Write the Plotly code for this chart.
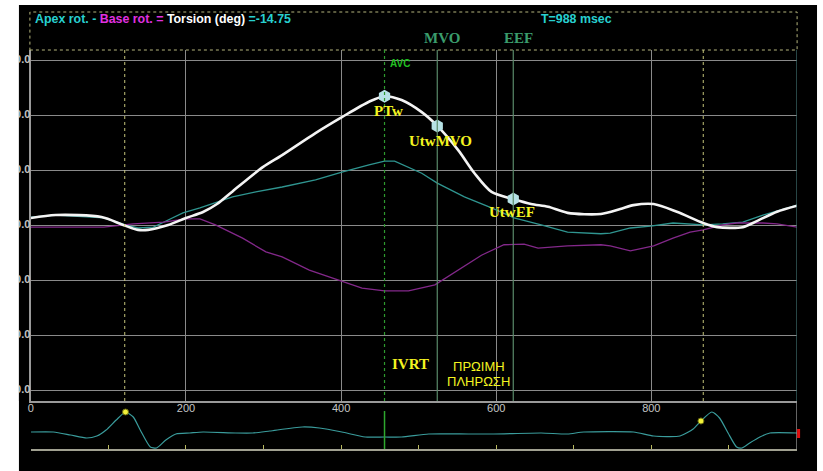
import plotly.graph_objects as go

W, H = 823, 471

# ---- rotation data (ms, degrees) ----
apex_t = [0, 32, 94, 122, 138, 158, 177, 196, 218, 238, 260, 290, 324, 367, 401, 436, 456, 469,
          504, 524, 559, 594, 623, 658, 692, 735, 747, 773, 799, 828, 867, 892, 918, 944, 962, 988]
apex_deg = [1.5, 1.9, 1.4, 0.1, -0.45, -0.3, 1.0, 2.3, 3.2, 4.1, 5.2, 6.1, 7.0, 8.3, 9.7, 11.0, 11.7, 11.7,
            9.5, 7.7, 5.2, 3.2, 1.4, 0.1, -1.2, -1.5, -1.4, -0.45, -0.1, 0.45, 0.1, 0.3, 0.6, 1.9, 2.6, 3.7]

base_t = [0, 94, 132, 171, 200, 218, 238, 273, 303, 324, 359, 397, 427, 456, 487, 521, 551, 581,
          610, 636, 654, 692, 735, 747, 773, 803, 828, 850, 867, 892, 910, 944, 962, 988]
base_deg = [-0.3, -0.3, 0.3, 0.6, 1.2, 1.2, 0.1, -2.3, -4.8, -5.7, -8.1, -9.9, -11.4, -11.9, -11.9, -10.8, -8.1, -5.4,
            -3.5, -3.4, -4.1, -3.7, -3.5, -3.7, -4.6, -3.7, -2.3, -1.2, -0.8, 0.1, 0.45, 0.45, 0.3, -0.3]

torsion_t = [0, 32, 91, 119, 138, 151, 177, 200, 222, 240, 260, 299, 324, 367, 401, 436, 456, 478,
             504, 524, 551, 572, 594, 622, 645, 667, 692, 735, 760, 777, 803, 833, 867, 885, 918, 936, 962, 988]
torsion_deg = [1.36, 1.9, 1.55, 0.1, -0.8, -0.8, 0.1, 1.36, 2.45, 3.9, 6.2, 10.6, 12.8, 16.8, 19.7, 22.5, 23.5, 22.8,
               20.6, 18.1, 13.7, 9.5, 6.1, 4.8, 3.9, 3.4, 2.3, 2.1, 3.0, 3.7, 3.9, 2.5, 0.45, -0.3, -0.3, 0.8, 2.5, 3.6]

# torsion landmarks
point_names = ["PTw", "UtwMVO", "UtwEF"]
point_t = [456, 524, 622]
point_deg = [23.5, 18.1, 4.8]

# cardiac events (ms)
avc_t, mvo_t, eef_t = 456, 524, 622
cycle_marks = [121, 867]

# ---- ECG strip ----
ecg_t = [0, 29, 51, 72, 85, 97, 110, 122, 132, 141, 154, 162, 174, 187, 205, 222, 264, 286, 308, 350,
         372, 401, 431, 456, 478, 513, 564, 597, 658, 692, 713, 777, 803, 837, 854, 864, 878, 888,
         899, 910, 917, 927, 940, 953, 988]
ecg_mv = [0.1, 0.1, -0.2, -0.5, -0.3, 0.3, 1.3, 2.1, 1.6, 0.3, -1.4, -1.5, -0.7, -0.1, 0.0, 0.1, 0.0, 0.0, 0.2, 0.6,
          0.5, 0.1, -0.4, -0.4, -0.4, -0.1, -0.1, -0.1, 0.0, -0.1, 0.1, 0.1, -0.3, -0.3, 0.4, 1.2, 2.1, 1.5,
          0.0, -1.4, -1.5, -1.0, -0.4, 0.0, 0.0]
ecg_dot_t = [122, 864]
ecg_dot_mv = [2.1, 1.2]

x_ticks = [0, 200, 400, 600, 800]
y_ticks = [-30, -20, -10, 0, 10, 20, 30]


def px(x):
    return x / W


def py(y):
    return 1 - y / H


GRID = "#8a8a8a"
Y_RANGE = [-31.9, 31.9]

fig = go.Figure()

fig.add_trace(go.Scatter(x=apex_t, y=apex_deg, mode="lines",
                         line=dict(color="#2f9590", width=1.3), hoverinfo="skip"))
fig.add_trace(go.Scatter(x=base_t, y=base_deg, mode="lines",
                         line=dict(color="#83288a", width=1.3), hoverinfo="skip"))
fig.add_trace(go.Scatter(x=torsion_t, y=torsion_deg, mode="lines",
                         line=dict(color="#f4f4f4", width=2.6, shape="spline", smoothing=0.8),
                         hoverinfo="skip"))
fig.add_trace(go.Scatter(x=point_t, y=point_deg, mode="markers",
                         marker=dict(symbol="hexagon", size=13, color="#b6e2e6", line=dict(width=0)),
                         hoverinfo="skip"))

fig.add_trace(go.Scatter(x=ecg_t, y=ecg_mv, mode="lines", xaxis="x2", yaxis="y2",
                         line=dict(color="#3a9c9c", width=1.2, shape="spline", smoothing=0.6),
                         hoverinfo="skip"))
fig.add_trace(go.Scatter(x=ecg_dot_t, y=ecg_dot_mv, mode="markers", xaxis="x2", yaxis="y2",
                         marker=dict(symbol="circle", size=6, color="#f2f23a",
                                     line=dict(color="#6a6a10", width=1)),
                         hoverinfo="skip"))

# degree labels live in a narrow strip left of the plot, clipped at its left edge
fig.add_trace(go.Scatter(x=[11.5] * len(y_ticks), y=y_ticks, mode="text", xaxis="x3", yaxis="y3",
                         text=["<b>%.1f</b>" % v for v in y_ticks], textposition="middle left",
                         textfont=dict(family="Liberation Sans", size=11, color="#c4c4c4"),
                         cliponaxis=True, hoverinfo="skip"))

shapes = []
# black panel on white page
shapes.append(dict(type="rect", xref="paper", yref="paper", x0=px(16), x1=px(817), y0=0, y1=py(5),
                   fillcolor="black", line=dict(width=0), layer="below"))
# header box
hdr = dict(color="#b4b47c", width=1, dash="dot")
shapes.append(dict(type="rect", xref="paper", yref="paper", x0=px(27), x1=px(797), y0=py(50), y1=py(12),
                   line=hdr, layer="above"))
# right edges of both panels
shapes.append(dict(type="line", xref="x", yref="paper", x0=988, x1=988, y0=py(401), y1=py(50),
                   line=dict(color="#3c6a6a", width=1.5)))
shapes.append(dict(type="line", xref="x2", yref="paper", x0=988, x1=988, y0=py(449), y1=py(401),
                   line=dict(color="#9a9a9a", width=1.5)))
# cycle markers
for t in cycle_marks:
    shapes.append(dict(type="line", xref="x", yref="y domain", x0=t, x1=t, y0=0, y1=1,
                       line=dict(color="#c4c47a", width=1, dash="dot")))
# event lines
shapes.append(dict(type="line", xref="x", yref="y domain", x0=avc_t, x1=avc_t, y0=0, y1=1,
                   line=dict(color="#2e9a2e", width=1.2, dash="dot")))
for t in (mvo_t, eef_t):
    shapes.append(dict(type="line", xref="x", yref="y domain", x0=t, x1=t, y0=0, y1=1,
                       line=dict(color="#5a8a6a", width=1.2)))
# AVC on ECG strip
shapes.append(dict(type="line", xref="x2", yref="y2", x0=avc_t, x1=avc_t, y0=-1.65, y1=2.2,
                   line=dict(color="#2ea82e", width=1.5)))
# end-of-trace marker
shapes.append(dict(type="line", xref="paper", yref="paper", x0=px(798.5), x1=px(798.5), y0=py(438),
                   y1=py(429), line=dict(color="#e01010", width=3)))

ann = []
ann.append(dict(xref="paper", yref="paper", x=px(30), y=py(19), xanchor="left", yanchor="middle",
                showarrow=False,
                font=dict(family="Liberation Sans", size=12.4, color="#28d0d0"),
                text="<b><span style='color:#28d0d0'>Apex rot. - </span>"
                     "<span style='color:#e030e0'>Base rot. = </span>"
                     "<span style='color:#ffffff'>Torsion (deg) </span>"
                     "<span style='color:#28d0d0'>=-14.75</span></b>"))
ann.append(dict(xref="paper", yref="paper", x=px(576), y=py(19), xanchor="center", yanchor="middle",
                showarrow=False, text="<b>T=988 msec</b>",
                font=dict(family="Liberation Sans", size=12.4, color="#28d0d0")))
serif_green = dict(family="Liberation Serif", size=15, color="#3a9c6c")
ann.append(dict(xref="paper", yref="paper", x=px(441), y=py(38), xanchor="center", yanchor="middle",
                showarrow=False, text="<b>MVO</b>", font=serif_green))
ann.append(dict(xref="paper", yref="paper", x=px(517), y=py(38), xanchor="center", yanchor="middle",
                showarrow=False, text="<b>EEF</b>", font=serif_green))
ann.append(dict(xref="paper", yref="paper", x=px(398), y=py(64), xanchor="center", yanchor="middle",
                showarrow=False, text="<b>AVC</b>",
                font=dict(family="Liberation Sans", size=10, color="#22c022")))

yellow_serif = dict(family="Liberation Serif", size=15, color="#f4f420")
label_pos = [(387, 111), (439, 141), (511, 212)]
for name, (lx, ly) in zip(point_names, label_pos):
    ann.append(dict(xref="paper", yref="paper", x=px(lx), y=py(ly), xanchor="center", yanchor="middle",
                    showarrow=False, text="<b>%s</b>" % name, font=yellow_serif))
ann.append(dict(xref="paper", yref="paper", x=px(409), y=py(364), xanchor="center", yanchor="middle",
                showarrow=False, text="<b>IVRT</b>", font=yellow_serif))
greek = dict(family="Liberation Sans", size=13, color="#f4f420")
ann.append(dict(xref="paper", yref="paper", x=px(478), y=py(366), xanchor="center", yanchor="middle",
                showarrow=False, text="ΠΡΩΙΜΗ", font=greek))
ann.append(dict(xref="paper", yref="paper", x=px(477), y=py(381), xanchor="center", yanchor="middle",
                showarrow=False, text="ΠΛΗΡΩΣΗ", font=greek))

fig.update_layout(
    width=W, height=H,
    margin=dict(l=0, r=0, t=0, b=0),
    paper_bgcolor="white",
    plot_bgcolor="black",
    showlegend=False,
    shapes=shapes,
    annotations=ann,
    xaxis=dict(domain=[px(28), px(797)], range=[0, 988], tickvals=x_ticks,
               showgrid=True, gridcolor=GRID, gridwidth=1, zeroline=False,
               showline=True, linecolor="#9a9a9a", linewidth=1.5,
               ticks="", ticklabelstandoff=-4,
               tickfont=dict(family="Liberation Sans", size=11, color="#c4c4c4"),
               tickprefix="<b>", ticksuffix="</b>", anchor="y"),
    yaxis=dict(domain=[py(401), py(50)], range=Y_RANGE, tickvals=y_ticks,
               showgrid=True, gridcolor=GRID, gridwidth=1, zeroline=False,
               showline=True, linecolor="#9a9a9a", linewidth=1.5,
               ticks="", showticklabels=False, anchor="x"),
    xaxis2=dict(domain=[px(28), px(797)], range=[0, 988], anchor="y2",
                showgrid=False, zeroline=False, showticklabels=False,
                ticks="inside", ticklen=4, tickcolor="#b8b860", tickwidth=1.2, dtick=100, tick0=0,
                showline=True, linecolor="#a0a090", linewidth=1.5),
    yaxis2=dict(domain=[py(449), py(402)], range=[-1.6, 3.1], visible=False, anchor="x2"),
    xaxis3=dict(domain=[px(16), px(28)], range=[0, 12], visible=False, anchor="y3"),
    yaxis3=dict(domain=[py(401), py(50)], range=Y_RANGE, visible=False, anchor="x3"),
)

fig.write_html("out.html")
